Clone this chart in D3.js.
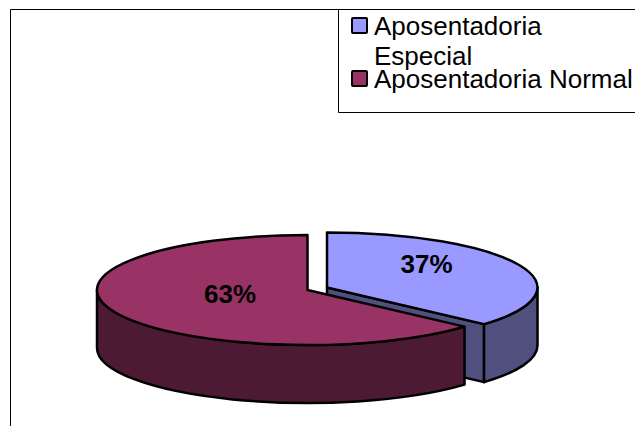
<!DOCTYPE html>
<html>
<head>
<meta charset="utf-8">
<script src="https://cdn.jsdelivr.net/npm/d3@7"></script>
<style>
    html, body { margin: 0; padding: 0; background: #fff; overflow: hidden; }
    svg { display: block; font-family: "Liberation Sans", Arial, sans-serif; }
    path { vector-effect: non-scaling-stroke; }
</style>
</head>
<body>
<svg id="drawing_region"></svg>
<script>
const categories = ['Aposentadoria Especial', 'Aposentadoria Normal'];
// printed rounded on the chart, the slice angles read closer to these
const shares = [36.6, 63.4];
const top_colors = ['#9999ff', '#993366'];
const wall_colors = ['#50507f', '#4d1a33'];

const width = 635, height = 426;
const rx = 210.5, ry = 55, depth = 58;
const squash = ry / rx;

const svg = d3.select('#drawing_region')
    .attr('width', width)
    .attr('height', height);

// chart frame and legend box run off the page on the right
const frame = svg.append('g')
    .attr('fill', 'none')
    .attr('stroke', '#000')
    .attr('stroke-width', 1);
frame.append('path').attr('d', `M10.5,426V9.5H635`);
frame.append('path').attr('d', `M338.5,9.5V112.5H635`);

const top_color = d3.scaleOrdinal().domain(categories).range(top_colors);
const wall_color = d3.scaleOrdinal().domain(categories).range(wall_colors);

const pie = d3.pie().sort(null).value(d => d.value);
const slices = pie(categories.map((c, i) => ({ name: c, value: shares[i] })));

const arc = d3.arc().innerRadius(0).outerRadius(rx);

// each slice sits in its own squashed group, the slices are pulled apart
const offsets = [{x: 327, y: 287.5}, {x: 307.5, y: 290}];

// d3.arc angles start at 12 o'clock, d3.path angles at 3 o'clock
const to_path = a => a - Math.PI / 2;

function wall_path( a0, a1 ) {
    const h = depth / squash;
    const p = d3.path();
    p.moveTo(rx * Math.cos(to_path(a0)), rx * Math.sin(to_path(a0)));
    p.arc(0, 0, rx, to_path(a0), to_path(a1));
    p.lineTo(rx * Math.cos(to_path(a1)), rx * Math.sin(to_path(a1)) + h);
    p.arc(0, h, rx, to_path(a1), to_path(a0), true);
    p.closePath();
    return p.toString();
}

function cut_path( a ) {
    const h = depth / squash;
    const x = rx * Math.cos(to_path(a)), y = rx * Math.sin(to_path(a));
    return `M0,0L${x},${y}L${x},${y + h}L0,${h}Z`;
}

slices.forEach( (d, i) => {
    const g = svg.append('g')
        .attr('transform', `translate(${offsets[i].x},${offsets[i].y}) scale(1,${squash})`)
        .attr('stroke', '#000')
        .attr('stroke-width', 2.5)
        .attr('stroke-linejoin', 'round');

    const a0 = Math.max(d.startAngle, Math.PI / 2);
    const a1 = Math.min(d.endAngle, Math.PI * 1.5);

    // the cut face is only seen on the first slice
    if (i === 0) {
        g.append('path')
            .attr('d', cut_path(d.endAngle))
            .attr('fill', wall_color(d.data.name));
    }
    g.append('path')
        .attr('d', wall_path(a0, a1))
        .attr('fill', wall_color(d.data.name));
    g.append('path')
        .attr('d', arc(d))
        .attr('fill', top_color(d.data.name));
});

// slice labels
const label_pos = [{x: 426.5, y: 273}, {x: 230, y: 303}];
svg.selectAll('text.share')
    .data(slices)
    .enter()
    .append('text')
    .attr('class', 'share')
    .attr('x', (d, i) => label_pos[i].x)
    .attr('y', (d, i) => label_pos[i].y)
    .attr('text-anchor', 'middle')
    .attr('font-size', 26)
    .attr('font-weight', 'bold')
    .attr('fill', '#000')
    .text(d => `${Math.round(d.data.value)}%`);

// legend
const legend_lines = [['Aposentadoria', 'Especial'], ['Aposentadoria Normal']];
const legend_y = d3.scalePoint().domain(categories).range([35, 88]);
const legend = svg.selectAll('g.legend')
    .data(categories)
    .enter()
    .append('g')
    .attr('class', 'legend')
    .attr('transform', d => `translate(351,${legend_y(d)})`);

legend.append('rect')
    .attr('x', 1)
    .attr('y', -17)
    .attr('width', 15)
    .attr('height', 15)
    .attr('rx', 1)
    .attr('fill', d => top_color(d))
    .attr('stroke', '#000')
    .attr('stroke-width', 2);

legend.selectAll('text')
    .data((d, i) => legend_lines[i])
    .enter()
    .append('text')
    .attr('x', 23)
    .attr('y', (d, i) => i * 30)
    .attr('font-size', 26)
    .attr('fill', '#000')
    .text(d => d);
</script>
</body>
</html>
